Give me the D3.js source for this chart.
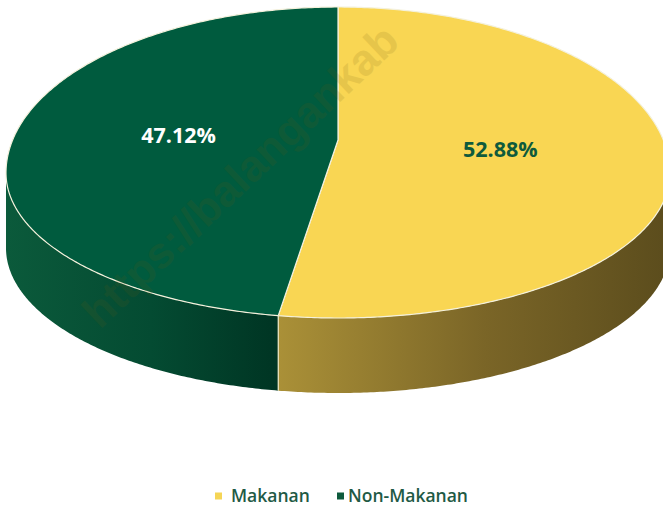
<!DOCTYPE html>
<html>
<head>
<meta charset="utf-8">
<script src="https://cdn.jsdelivr.net/npm/d3@7"></script>
<style>
  body { margin: 0; background: #fff; }
  svg { display: block; }
</style>
</head>
<body>
<div id="chart"></div>
<script>
// data
var categories = ["Makanan", "Non-Makanan"];
var values = [52.88, 47.12];
var labels = ["52.88%", "47.12%"];
var watermark = "https://balangankab";

var topColors = ["#f9d653", "#005b3e"];
var labelColors = ["#0f5a3c", "#ffffff"];
var legendColors = ["#f5d556", "#0d5a3d"];

var width = 663, height = 508;

// geometry of the tilted pie (egg shaped ellipse to fake perspective)
var cx = 338, cy = 173, rx = 332, ryTop = 166, ryBot = 145;
var apex = [338, 140];
var depth = 75;

var svg = d3.select("#chart").append("svg")
    .attr("width", width)
    .attr("height", height);

var defs = svg.append("defs");

function ep(t, dy){
	var c = Math.cos(t);
	var ry = c > 0 ? ryTop : ryBot;
	return [cx + rx * Math.sin(t), cy - ry * c + (dy || 0)];
}

function arcPts(a0, a1, dy){
	var n = Math.max(2, Math.ceil(Math.abs(a1 - a0) / 0.01));
	var pts = [];
	for(var i = 0; i <= n; i++){
		pts.push(ep(a0 + (a1 - a0) * i / n, dy));
	}
	return pts;
}

var pie = d3.pie().sort(null).value(function(d){ return d; });
var arcs = pie(values);

var line = d3.line();

// side gradients
var sideGrads = [
	{id: "sideY", stops: [["0%", "#ac9238"], ["55%", "#7a6527"], ["100%", "#5c4d1d"]], x1: 270, x2: 663},
	{id: "sideG", stops: [["0%", "#0b5a3b"], ["55%", "#044b32"], ["100%", "#003624"]], x1: 6, x2: 270}
];
sideGrads.forEach(function(g){
	var lg = defs.append("linearGradient")
		.attr("id", g.id)
		.attr("gradientUnits", "userSpaceOnUse")
		.attr("x1", g.x1).attr("y1", 0)
		.attr("x2", g.x2).attr("y2", 0);
	g.stops.forEach(function(s){
		lg.append("stop").attr("offset", s[0]).attr("stop-color", s[1]);
	});
});

// sides (only the front half, pi/2 .. 3pi/2, is visible)
var sides = svg.append("g").attr("class", "sides");
arcs.forEach(function(a, i){
	var s = Math.max(a.startAngle, Math.PI / 2);
	var e = Math.min(a.endAngle, 3 * Math.PI / 2);
	if(e <= s) return;
	var topEdge = arcPts(s, e, 0);
	var botEdge = arcPts(e, s, depth);
	sides.append("path")
		.attr("d", line(topEdge.concat(botEdge)) + "Z")
		.attr("fill", i == 0 ? "url(#sideY)" : "url(#sideG)");
});

// vertical edge where slices meet on the side
arcs.forEach(function(a){
	var t = a.endAngle;
	if(t > Math.PI / 2 && t < 3 * Math.PI / 2){
		var p = ep(t, 0);
		sides.append("line")
			.attr("x1", p[0]).attr("y1", p[1])
			.attr("x2", p[0]).attr("y2", p[1] + depth)
			.attr("stroke", "#f3ecc8")
			.attr("stroke-width", 1.2);
	}
});

// top faces
var tops = svg.append("g").attr("class", "tops");
arcs.forEach(function(a, i){
	var pts = [apex].concat(arcPts(a.startAngle, a.endAngle, 0));
	tops.append("path")
		.attr("d", line(pts) + "Z")
		.attr("fill", topColors[i])
		.attr("stroke", "#f4f1dc")
		.attr("stroke-width", 1.2)
		.attr("stroke-linejoin", "round");
});

// watermark
svg.append("text")
	.attr("transform", "translate(100,330) rotate(-43.5)")
	.attr("font-family", "Liberation Sans, Arial, sans-serif")
	.attr("font-weight", 700)
	.attr("font-size", 44)
	.attr("fill", "#6b5a10")
	.attr("opacity", 0.13)
	.text(watermark);

// data labels
arcs.forEach(function(a, i){
	var mid = (a.startAngle + a.endAngle) / 2;
	var edge = ep(mid, 0);
	var f = 0.485;
	var x = apex[0] + f * (edge[0] - apex[0]);
	var y = apex[1] + f * (edge[1] - apex[1]) - 13;
	svg.append("text")
		.attr("x", x + (i == 0 ? 2 : 1))
		.attr("y", y)
		.attr("dy", "0.35em")
		.attr("text-anchor", "middle")
		.attr("font-family", "Open Sans, sans-serif")
		.attr("font-weight", 700)
		.attr("font-size", 21.5)
		.attr("fill", labelColors[i])
		.text(labels[i]);
});

// legend
var legendX = d3.scaleOrdinal().domain(categories).range([215, 337]);
var legend = svg.append("g").attr("class", "legend");
var items = legend.selectAll("g").data(categories).enter().append("g")
	.attr("transform", function(d){ return "translate(" + legendX(d) + ",496)"; });
items.append("rect")
	.attr("x", 0).attr("y", -3.5)
	.attr("width", 7).attr("height", 7)
	.attr("fill", function(d, i){ return legendColors[i]; });
items.append("text")
	.attr("x", function(d, i){ return i == 0 ? 16 : 11; })
	.attr("dy", "0.35em")
	.attr("font-family", "Open Sans, sans-serif")
	.attr("font-weight", 600)
	.attr("font-size", 17.5)
	.attr("fill", "#1f5a45")
	.text(function(d){ return d; });
</script>
</body>
</html>
